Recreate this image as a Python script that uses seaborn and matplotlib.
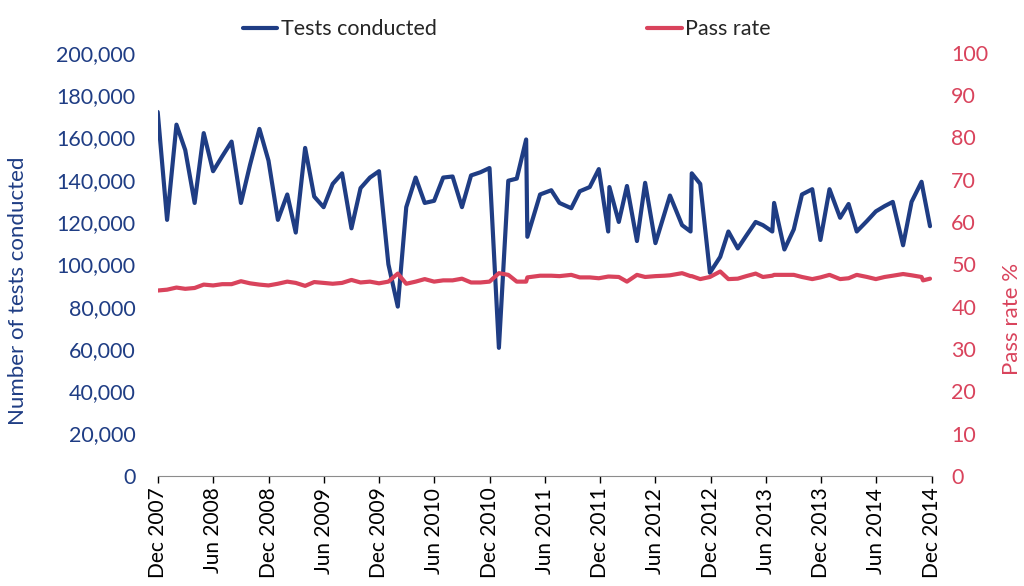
import pandas as pd
import seaborn as sns
import matplotlib.pyplot as plt
import matplotlib.ticker as mticker
import matplotlib.dates as mdates

# data
dates = ["2007-12-01", "2008-01-01", "2008-02-01", "2008-03-01", "2008-04-01", "2008-05-01",
         "2008-06-01", "2008-07-01", "2008-08-01", "2008-09-01", "2008-10-01", "2008-11-01",
         "2008-12-01", "2009-01-01", "2009-02-01", "2009-03-01", "2009-04-01", "2009-05-01",
         "2009-06-01", "2009-07-01", "2009-08-01", "2009-09-01", "2009-10-01", "2009-11-01",
         "2009-12-01", "2010-01-01", "2010-02-01", "2010-03-01", "2010-04-01", "2010-05-01",
         "2010-06-01", "2010-07-01", "2010-08-01", "2010-09-01", "2010-10-01", "2010-11-01",
         "2010-12-01", "2011-01-01", "2011-02-01", "2011-03-01", "2011-04-01", "2011-04-05",
         "2011-05-17", "2011-06-23", "2011-07-20", "2011-08-28", "2011-09-25", "2011-10-28",
         "2011-11-27", "2011-12-28", "2012-01-01", "2012-02-01", "2012-02-28", "2012-04-01",
         "2012-04-28", "2012-06-01", "2012-07-01", "2012-07-19", "2012-08-28", "2012-09-25",
         "2012-09-29", "2012-10-27", "2012-11-28", "2013-01-01", "2013-01-28", "2013-02-28",
         "2013-03-28", "2013-04-28", "2013-05-22", "2013-06-22", "2013-06-28", "2013-08-01",
         "2013-09-01", "2013-09-28", "2013-11-01", "2013-11-28", "2013-12-28", "2014-02-01",
         "2014-03-01", "2014-03-28", "2014-05-01", "2014-05-30", "2014-06-28", "2014-07-25",
         "2014-08-28", "2014-09-25", "2014-10-28", "2014-11-02", "2014-11-25"]

tests = [172, 121, 166, 154, 129, 162,
         144, 151, 158, 129, 147, 164,
         149, 121, 133, 115, 155, 132,
         127, 138, 143, 117, 136, 141,
         144, 100, 80, 127, 141, 129,
         130, 141, 141.5, 127, 142, 143.5,
         145.5, 60.5, 139.5, 140.5, 159, 113,
         133, 135, 129, 126.5, 134.5, 136.5,
         145, 115.5, 136.5, 120, 137, 111,
         138.5, 110, 124, 132.5, 118.5, 115.5,
         143, 138, 96, 103.5, 115.5, 107.5,
         113.5, 120, 118.5, 115.5, 129, 107,
         116.5, 133, 135.5, 111.5, 135.5, 122,
         128.5, 115.5, 120.5, 125, 127.5, 129.5,
         109, 129.5, 139, 135, 118]
tests = [t * 1000 for t in tests]

pass_rate = [43.8, 44.0, 44.5, 44.2, 44.4, 45.2,
             45.0, 45.3, 45.3, 46.0, 45.5, 45.2,
             45.0, 45.4, 45.9, 45.6, 44.9, 45.8,
             45.6, 45.4, 45.6, 46.3, 45.7, 45.9,
             45.5, 45.9, 47.8, 45.4, 45.9, 46.5,
             45.9, 46.2, 46.2, 46.6, 45.7, 45.7,
             45.9, 47.9, 47.5, 45.9, 45.9, 46.9,
             47.3, 47.3, 47.2, 47.5, 46.9, 46.9,
             46.7, 47.1, 47.1, 47.0, 45.9, 47.5,
             47.0, 47.2, 47.3, 47.4, 47.9, 47.2,
             47.2, 46.5, 47.0, 48.3, 46.5, 46.6,
             47.2, 47.8, 47.0, 47.3, 47.5, 47.5,
             47.5, 47.0, 46.5, 46.9, 47.5, 46.5,
             46.7, 47.5, 47.0, 46.5, 47.0, 47.3,
             47.7, 47.4, 47.0, 46.2, 46.6]

df = pd.DataFrame({"date": pd.to_datetime(dates), "tests": tests, "pass_rate": pass_rate})

blue = "#1f3d84"
red = "#d9435c"

sns.set_style("white")
plt.rcParams["font.family"] = ["Lato", "DejaVu Sans"]

fig = plt.figure(figsize=(10.24, 5.86), dpi=100)
ax = fig.add_axes([0.154, 0.188, 0.756, 0.722])
ax2 = ax.twinx()

sns.lineplot(data=df, x="date", y="tests", ax=ax, color=blue, linewidth=3,
             label="Tests conducted", legend=False)
sns.lineplot(data=df, x="date", y="pass_rate", ax=ax2, color=red, linewidth=3,
             label="Pass rate", legend=False)

ax.set_ylim(0, 200000)
ax.yaxis.set_major_locator(mticker.MultipleLocator(20000))
ax.yaxis.set_major_formatter(mticker.StrMethodFormatter("{x:,.0f}"))
ax2.set_ylim(0, 100)
ax2.yaxis.set_major_locator(mticker.MultipleLocator(10))

ticks = pd.date_range("2007-12-01", "2014-12-01", freq="6MS")
ax.set_xlim(ticks[0], ticks[-1])
ax.set_xticks(ticks)
ax.xaxis.set_major_formatter(mdates.DateFormatter("%b %Y"))
ax.tick_params(axis="x", rotation=90, labelsize=15, colors="black",
               length=5, width=1, direction="out", bottom=True)
ax.tick_params(axis="y", labelsize=15.5, labelcolor=blue, length=0, pad=16)
ax2.tick_params(axis="y", labelsize=15.5, labelcolor=red, length=0, pad=14)

ax.set_xlabel("")
ax.set_ylabel("Number of tests conducted", fontsize=16, color=blue)
ax2.set_ylabel("Pass rate %", fontsize=16, color=red)
ax.yaxis.set_label_coords(-0.167, 0.437)
ax2.yaxis.set_label_coords(1.091, 0.37)

for a in (ax, ax2):
    for s in ("top", "left", "right"):
        a.spines[s].set_visible(False)
ax.spines["bottom"].set_color("#8c8c8c")
ax2.spines["bottom"].set_visible(False)

h1, l1 = ax.get_legend_handles_labels()
h2, l2 = ax2.get_legend_handles_labels()
fig.legend(h1 + h2, l1 + l2, loc="upper center", bbox_to_anchor=(0.495, 1.0), ncol=2,
           frameon=False, fontsize=15.5, handlelength=1.6, handletextpad=0.15,
           columnspacing=9.8)

fig.savefig("out.png", dpi=100)
